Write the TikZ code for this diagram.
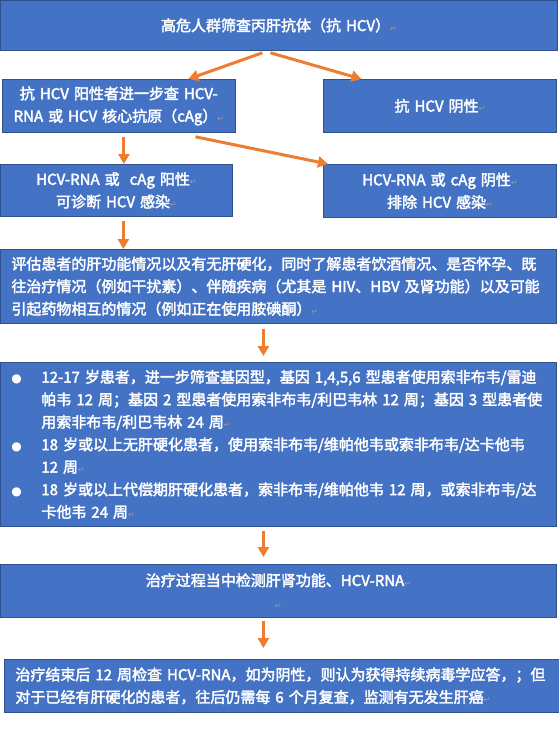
\documentclass[tikz,border=0pt]{standalone}
\usepackage{fontspec}
\usetikzlibrary{arrows.meta}
\newfontfamily\cjk{Noto Sans CJK SC}[FakeBold=2.5]
\newfontfamily\symfont{DejaVu Sans}
\definecolor{boxblue}{HTML}{4472C4}
\definecolor{boxline}{HTML}{2F528F}
\definecolor{arroworange}{HTML}{ED7D31}
\definecolor{markgray}{HTML}{9A9A9A}
\newcommand{\retmark}{{\symfont\fontsize{8}{8}\selectfont\textcolor{markgray}{↵}}}
\newcommand{\bul}{\makebox[30pt][l]{\symfont\fontsize{12}{12}\selectfont ●}}
\newcommand{\hang}{\hspace*{30pt}}
\tikzset{
    box/.style={draw=boxline, fill=boxblue, line width=0.8pt, text=white,
        anchor=north west, inner ysep=0pt,
        font=\cjk\fontsize{15}{22.5}\selectfont},
    centerbox/.style={box, align=center, inner xsep=0pt},
    leftbox/.style={box, align=left, inner xsep=11pt},
    flow/.style={draw=arroworange, line width=3pt,
        -{Triangle[length=10pt,width=11pt]}}
}
\begin{document}
\begin{tikzpicture}[x=1pt,y=-1pt]
        \useasboundingbox (0,0) rectangle (559,737);
        %% Boxes
        \node[centerbox, text width=557, minimum width=557, minimum height=50]
            (screen) at (0,0) {高危人群筛查丙肝抗体（抗 HCV）\retmark};
        \node[centerbox, text width=233, minimum width=233, minimum height=53]
            (pos) at (2,79) {抗 HCV 阳性者进一步查 HCV-\\RNA 或 HCV 核心抗原（cAg）\retmark};
        \node[centerbox, text width=233, minimum width=233, minimum height=53]
            (neg) at (323,79) {抗 HCV 阴性\retmark};
        \node[centerbox, text width=232, minimum width=232, minimum height=52]
            (rnapos) at (0,164) {HCV-RNA 或\ \ cAg 阳性\retmark\\可诊断 HCV 感染\retmark};
        \node[centerbox, text width=233, minimum width=233, minimum height=53]
            (rnaneg) at (323,164) {HCV-RNA 或 cAg 阴性\retmark\\排除 HCV 感染\retmark};
        \node[leftbox, text width=534, minimum width=556, minimum height=74]
            (assess) at (0,249) {评估患者的肝功能情况以及有无肝硬化，同时了解患者饮酒情况、是否怀孕、既\\
            往治疗情况（例如干扰素）、伴随疾病（尤其是 HIV、HBV 及肾功能）以及可能\\
            引起药物相互的情况（例如正在使用胺碘酮）\retmark};
        \node[leftbox, text width=534, minimum width=556, minimum height=164]
            (treat) at (0,362) {\bul 12-17 岁患者，进一步筛查基因型，基因 1,4,5,6 型患者使用索非布韦/雷迪\\
            \hang 帕韦 12 周；基因 2 型患者使用索非布韦/利巴韦林 12 周；基因 3 型患者使\\
            \hang 用索非布韦/利巴韦林 24 周\retmark\\
            \bul 18 岁或以上无肝硬化患者，使用索非布韦/维帕他韦或索非布韦/达卡他韦\\
            \hang 12 周\retmark\\
            \bul 18 岁或以上代偿期肝硬化患者，索非布韦/维帕他韦 12 周，或索非布韦/达\\
            \hang 卡他韦 24 周\retmark};
        \node[centerbox, text width=556, minimum width=556, minimum height=53]
            (monitor) at (0,564) {治疗过程当中检测肝肾功能、HCV-RNA\retmark\\\retmark};
        \node[leftbox, text width=533, minimum width=555, minimum height=53]
            (follow) at (4,659) {治疗结束后 12 周检查 HCV-RNA，如为阴性，则认为获得持续病毒学应答，；但\\
            对于已经有肝硬化的患者，往后仍需每 6 个月复查，监测有无发生肝癌\retmark};
        %% Arrows
        \draw[flow] ([xshift=-16.5,yshift=-2]screen.south) -- ([xshift=69.5]pos.north);
        \draw[flow] ([xshift=-8.5,yshift=-2]screen.south) -- ([xshift=-78.5]neg.north);
        \draw[flow] ([xshift=5,yshift=-4]pos.south) -- ([xshift=5]pos.south |- rnapos.north);
        \draw[flow] ([xshift=76.5,yshift=-4]pos.south) -- ([xshift=5]rnaneg.north west);
        \draw[flow] ([xshift=7,yshift=-4]rnapos.south) -- ([xshift=7]rnapos.south |- assess.north);
        \draw[flow] ([xshift=-15,yshift=-5]assess.south) -- ([xshift=-15,yshift=6]assess.south |- treat.north);
        \draw[flow] ([xshift=-15,yshift=-4]treat.south) -- ([xshift=-15,yshift=7]treat.south |- monitor.north);
        \draw[flow] ([xshift=-15,yshift=-3]monitor.south) -- ([xshift=-15,yshift=11]monitor.south |- follow.north);
\end{tikzpicture}
\end{document}
